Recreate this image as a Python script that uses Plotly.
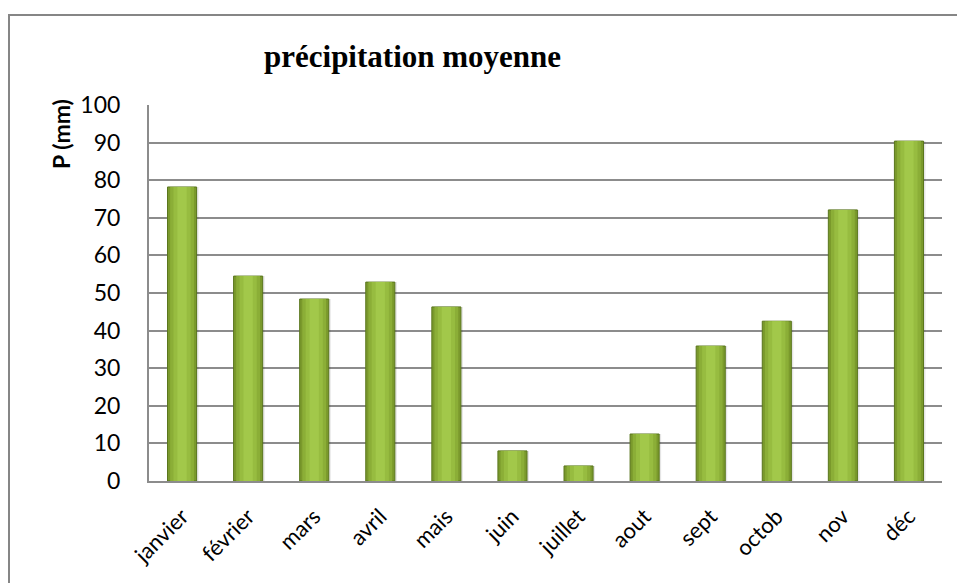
import plotly.graph_objects as go

# Monthly mean precipitation (mm)
mois = ["janvier", "février", "mars", "avril", "mais", "juin",
        "juillet", "aout", "sept", "octob", "nov", "déc"]
precip = [78.2, 54.5, 48.4, 52.9, 46.3, 8.0, 4.0, 12.5, 35.9, 42.5, 72.1, 90.4]

y_ticks = list(range(0, 101, 10))

W, H = 957, 583
L, R, T, B = 149, 15, 105, 102
pw = W - L - R
ph = H - T - B


def px_x(px):
    return (px - L) / pw


def px_y(py):
    return (H - B - py) / ph


fig = go.Figure()

# soft shadow to the right of each bar
fig.add_trace(go.Bar(
    x=mois, y=precip, width=0.44, offset=-0.19,
    marker=dict(color="rgba(0,0,0,0.10)", line=dict(width=0)),
    hoverinfo="skip", showlegend=False))

# layered bars give a rounded, cylinder-like shading
layers = [
    (0.44, "#7a992c", "#5a761d", 1),
    (0.36, "#8bae37", "rgba(0,0,0,0)", 0),
    (0.26, "#97bc40", "rgba(0,0,0,0)", 0),
    (0.14, "#a2c84a", "rgba(0,0,0,0)", 0),
]
for w, c, lc, lw in layers:
    fig.add_trace(go.Bar(
        x=mois, y=precip, width=w,
        marker=dict(color=c, line=dict(color=lc, width=lw)),
        hoverinfo="skip", showlegend=False))

fig.update_layout(
    width=W, height=H,
    margin=dict(l=L, r=R, t=T, b=B, autoexpand=False),
    paper_bgcolor="white", plot_bgcolor="white",
    barmode="overlay",
    font=dict(family="Lato, 'Open Sans', sans-serif", color="black"),
    xaxis=dict(
        type="category", tickangle=-45,
        tickfont=dict(size=22, family="Lato"),
        showline=True, linecolor="#8c8c8c", linewidth=2,
        showgrid=False, ticks="", ticklabelstandoff=12,
        range=[-0.5, 11.5], fixedrange=True,
    ),
    yaxis=dict(
        range=[0, 100], tickvals=y_ticks,
        tickfont=dict(size=23, family="Lato"),
        showline=True, linecolor="#8c8c8c", linewidth=2,
        showgrid=True, gridcolor="#8c8c8c", gridwidth=2,
        zeroline=False, ticks="", ticklabelstandoff=22,
        fixedrange=True,
    ),
    annotations=[
        dict(text="<b>précipitation moyenne</b>", xref="paper", yref="paper",
             x=px_x(412), y=px_y(56), xanchor="center", yanchor="middle",
             showarrow=False,
             font=dict(family="Liberation Serif, Times New Roman, serif",
                       size=31, color="black")),
        dict(text="<b>P (mm)</b>", xref="paper", yref="paper",
             x=px_x(61), y=px_y(134), xanchor="center", yanchor="middle",
             textangle=-90, showarrow=False,
             font=dict(family="Lato", size=23, color="black")),
    ],
    shapes=[
        dict(type="rect", xref="paper", yref="paper",
             x0=px_x(9), x1=px_x(975), y0=px_y(600), y1=px_y(15),
             line=dict(color="#868686", width=2), fillcolor="rgba(0,0,0,0)",
             layer="below"),
    ],
)

fig.write_html("out.html")
